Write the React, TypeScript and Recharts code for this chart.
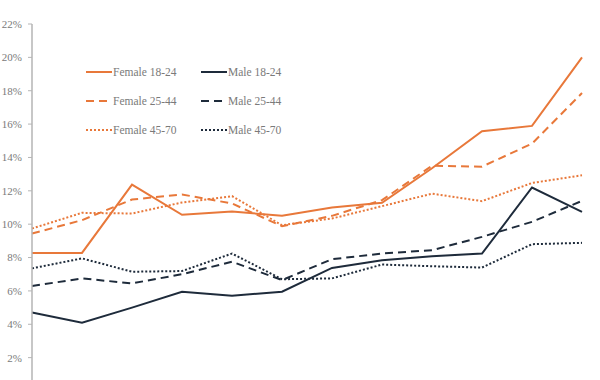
import React from 'react';
import { LineChart, Line, XAxis, YAxis } from 'recharts';

const periods = ['2008', '2009', '2010', '2011', '2012', '2013', '2014', '2015', '2016', '2017', '2018', '2019'];

const female1824 = [8.28, 8.28, 12.37, 10.56, 10.76, 10.5, 11.0, 11.28, 13.35, 15.57, 15.89, 20.0];
const male1824 = [4.71, 4.09, 5.0, 5.95, 5.71, 5.95, 7.38, 7.84, 8.08, 8.24, 12.2, 10.74];
const female2544 = [9.44, 10.24, 11.48, 11.78, 11.24, 9.88, 10.5, 11.44, 13.5, 13.45, 14.83, 17.86];
const male2544 = [6.29, 6.75, 6.45, 7.0, 7.75, 6.65, 7.9, 8.24, 8.44, 9.24, 10.14, 11.4];
const female4570 = [9.74, 10.68, 10.64, 11.3, 11.68, 9.94, 10.34, 11.08, 11.83, 11.38, 12.47, 12.93];
const male4570 = [7.35, 7.95, 7.15, 7.19, 8.24, 6.7, 6.75, 7.58, 7.48, 7.4, 8.8, 8.88];

// 0% sits just below the visible area, so it isn't labelled
const yTicks = [2, 4, 6, 8, 10, 12, 14, 16, 18, 20, 22];

const ORANGE = '#E8783A';
const NAVY = '#1E2B3B';
const FONT = '"Liberation Serif", "Times New Roman", serif';

const data = periods.map((p, i) => ({
  period: p,
  f1824: female1824[i],
  m1824: male1824[i],
  f2544: female2544[i],
  m2544: male2544[i],
  f4570: female4570[i],
  m4570: male4570[i],
}));

const series = [
  { key: 'f1824', name: 'Female 18-24', color: ORANGE, dash: undefined },
  { key: 'm1824', name: 'Male 18-24', color: NAVY, dash: undefined },
  { key: 'f2544', name: 'Female 25-44', color: ORANGE, dash: '8 5' },
  { key: 'm2544', name: 'Male 25-44', color: NAVY, dash: '8 5' },
  { key: 'f4570', name: 'Female 45-70', color: ORANGE, dash: '2 2' },
  { key: 'm4570', name: 'Male 45-70', color: NAVY, dash: '2 2' },
];

// legend drawn as an overlay so it doesn't eat plot height
const LegendGrid = () => (
  <div style={{
    position: 'absolute', top: 62, left: 86, display: 'grid', gridTemplateColumns: '115px 115px',
    rowGap: 10, fontFamily: FONT, fontSize: 11.5, color: '#7a7a7a',
  }}>
    {series.map((s) => (
      <div key={s.key} style={{ display: 'flex', alignItems: 'center', height: 19 }}>
        <svg width={26} height={6} style={{ marginRight: 1 }}>
          <line x1={0} y1={3} x2={26} y2={3} stroke={s.color} strokeWidth={2} strokeDasharray={s.dash} />
        </svg>
        <span>{s.name}</span>
      </div>
    ))}
  </div>
);

export default function App() {
  return (
    <div style={{ position: 'absolute', left: 0, top: 0, width: 600, height: 380, overflow: 'hidden', background: '#fff' }}>
      <LineChart width={600} height={400} data={data} margin={{ top: 24, right: 18, bottom: 9, left: 0 }}>
        <XAxis dataKey="period" hide />
        <YAxis
          domain={[0, 22]}
          ticks={yTicks}
          interval={0}
          width={32}
          tickFormatter={(v) => `${v}%`}
          axisLine={{ stroke: '#b5b5b5', strokeWidth: 1.5 }}
          tickLine={{ stroke: '#b5b5b5' }}
          tickSize={4}
          tickMargin={6}
          tick={{ fill: '#7a7a7a', fontSize: 11, fontFamily: FONT }}
        />
        {series.map((s) => (
          <Line
            key={s.key}
            type="linear"
            dataKey={s.key}
            name={s.name}
            stroke={s.color}
            strokeWidth={2}
            strokeDasharray={s.dash}
            dot={false}
            activeDot={false}
            isAnimationActive={false}
          />
        ))}
      </LineChart>
      <LegendGrid />
    </div>
  );
}
